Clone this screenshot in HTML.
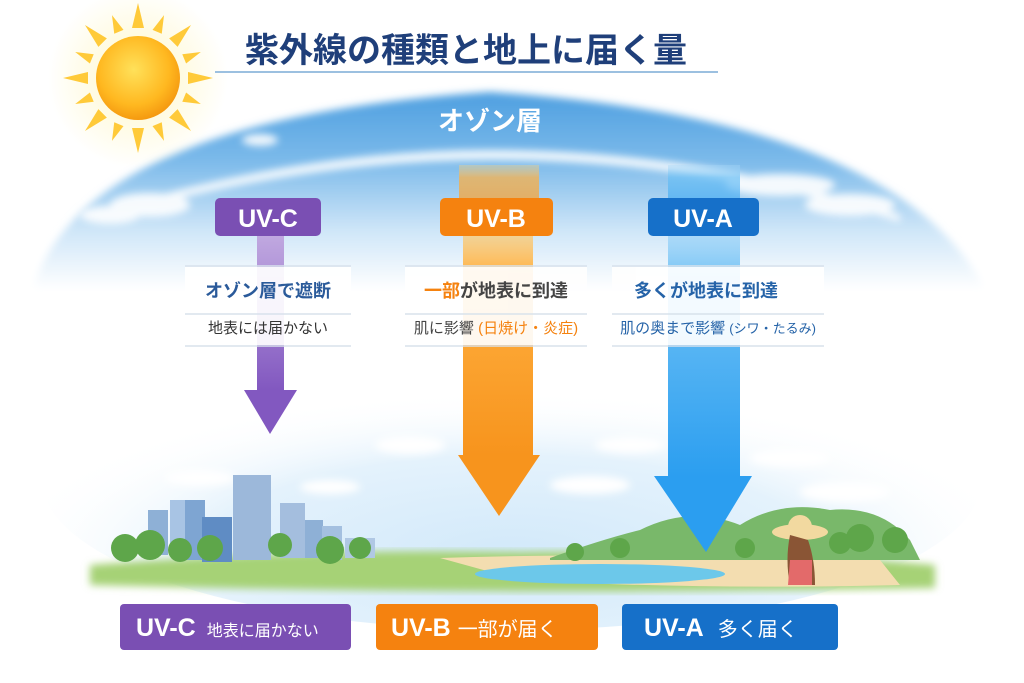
<!DOCTYPE html>
<html><head><meta charset="utf-8"><style>
html,body{margin:0;padding:0;background:#fff}
svg{display:block}
text{font-family:"Liberation Sans","Noto Sans CJK JP",sans-serif}
</style></head><body>
<svg width="1024" height="683" viewBox="0 0 1024 683" xmlns="http://www.w3.org/2000/svg">
<defs>
<linearGradient id="sky" x1="0" y1="92" x2="0" y2="290" gradientUnits="userSpaceOnUse">
<stop offset="0" stop-color="#4e9fe0"/><stop offset="0.35" stop-color="#7cbaea"/><stop offset="0.7" stop-color="#cfe6f8"/><stop offset="1" stop-color="#ffffff"/>
</linearGradient>
<radialGradient id="sun" cx="0.45" cy="0.4" r="0.6"><stop offset="0" stop-color="#ffe15a"/><stop offset="0.7" stop-color="#ffb820"/><stop offset="1" stop-color="#f59a10"/></radialGradient>
<radialGradient id="glow"><stop offset="0" stop-color="#fff6c0" stop-opacity="0.9"/><stop offset="1" stop-color="#fff6c0" stop-opacity="0"/></radialGradient>
<radialGradient id="low" cx="0.5" cy="0.75" r="0.55"><stop offset="0" stop-color="#d2e9fa"/><stop offset="0.6" stop-color="#e4f2fc"/><stop offset="1" stop-color="#fff" stop-opacity="0"/></radialGradient>
<linearGradient id="ob" x1="0" y1="0" x2="0" y2="1"><stop offset="0" stop-color="#ffd27a" stop-opacity="0.5"/><stop offset="0.25" stop-color="#ffb040"/><stop offset="1" stop-color="#f7941d"/></linearGradient>
<linearGradient id="bb" x1="0" y1="0" x2="0" y2="1"><stop offset="0" stop-color="#a8d8f8" stop-opacity="0.5"/><stop offset="0.25" stop-color="#6cc0f5"/><stop offset="1" stop-color="#2b9ef0"/></linearGradient>
<linearGradient id="pb" x1="0" y1="0" x2="0" y2="1"><stop offset="0" stop-color="#c0a8e0"/><stop offset="1" stop-color="#8258c0"/></linearGradient>
<filter id="blur"><feGaussianBlur stdDeviation="4"/></filter>
<filter id="blur2"><feGaussianBlur stdDeviation="12"/></filter>
</defs>
<rect width="1024" height="683" fill="#fff"/>
<!-- lower sky -->
<ellipse cx="512" cy="480" rx="470" ry="150" fill="url(#low)"/>
<!-- sky dome -->
<path d="M30 300 Q70 120 490 92 Q910 120 990 300 Z" fill="url(#sky)" filter="url(#blur)"/>
<!-- cloud band -->
<g fill="#fff" opacity="0.9" filter="url(#blur)">
<ellipse cx="150" cy="205" rx="40" ry="12"/><ellipse cx="110" cy="215" rx="30" ry="9"/>
<path d="M90 215 Q300 150 490 150 Q700 150 900 215 L900 222 Q700 160 490 160 Q300 160 90 222 Z"/>
<ellipse cx="780" cy="185" rx="55" ry="11"/><ellipse cx="850" cy="205" rx="45" ry="11"/>
<ellipse cx="260" cy="140" rx="18" ry="6"/>
</g>
<!-- sun -->
<circle cx="138" cy="78" r="90" fill="url(#glow)"/>
<g fill="#ffc830" opacity="0.95">
<g transform="translate(138 78)">
<polygon points="-6,-50 6,-50 0,-75"/><polygon points="-6,50 6,50 0,75"/><polygon points="-50,-6 -50,6 -75,0"/><polygon points="50,-6 50,6 75,0"/>
<g transform="rotate(22.5)"><polygon points="-5,-50 5,-50 0,-68"/><polygon points="-5,50 5,50 0,68"/><polygon points="-50,-5 -50,5 -68,0"/><polygon points="50,-5 50,5 68,0"/></g>
<g transform="rotate(45)"><polygon points="-6,-50 6,-50 0,-75"/><polygon points="-6,50 6,50 0,75"/><polygon points="-50,-6 -50,6 -75,0"/><polygon points="50,-6 50,6 75,0"/></g>
<g transform="rotate(67.5)"><polygon points="-5,-50 5,-50 0,-68"/><polygon points="-5,50 5,50 0,68"/><polygon points="-50,-5 -50,5 -68,0"/><polygon points="50,-5 50,5 68,0"/></g>
</g></g>
<circle cx="138" cy="78" r="42" fill="url(#sun)"/>
<!-- title -->
<text x="466" y="62" text-anchor="middle" font-size="34" font-weight="bold" fill="#1f3f7a">紫外線の種類と地上に届く量</text>
<line x1="215" y1="72" x2="718" y2="72" stroke="#9cc0e0" stroke-width="2"/>
<text x="490" y="130" text-anchor="middle" font-size="26" font-weight="bold" fill="#fff">オゾン層</text>
<!-- clouds low -->
<g fill="#fff" filter="url(#blur)">
<ellipse cx="410" cy="445" rx="35" ry="9"/><ellipse cx="630" cy="445" rx="35" ry="8"/><ellipse cx="790" cy="458" rx="40" ry="9"/>
<ellipse cx="200" cy="478" rx="35" ry="8"/><ellipse cx="330" cy="487" rx="30" ry="7"/><ellipse cx="590" cy="485" rx="40" ry="9"/><ellipse cx="845" cy="492" rx="45" ry="10"/>
</g>
<!-- ground scene -->
<g>
<path d="M90 565 Q300 548 520 552 Q750 548 935 565 L935 588 Q500 596 90 585 Z" fill="#a6d276" filter="url(#blur)"/>
<path d="M440 558 Q620 552 880 560 L900 585 Q700 590 520 580 Z" fill="#f3ddb0"/>
<ellipse cx="600" cy="574" rx="125" ry="10" fill="#6cc8ea"/>
<path d="M550 558 Q600 540 640 530 Q690 505 740 525 Q780 500 830 510 Q880 505 910 540 L920 560 L550 560 Z" fill="#79b86a"/>
<g fill="#8eb0d6">
<rect x="148" y="510" width="20" height="45"/><rect x="170" y="500" width="22" height="55" fill="#a8c4e4"/>
<rect x="185" y="500" width="20" height="60" fill="#7ea5d2"/><rect x="202" y="517" width="30" height="45" fill="#5f8cc4"/>
<rect x="233" y="475" width="38" height="85" fill="#9cb8da"/><rect x="280" y="503" width="25" height="55" fill="#a4bede"/>
<rect x="305" y="520" width="18" height="38"/><rect x="322" y="526" width="20" height="34" fill="#a4c0e0"/><rect x="345" y="538" width="30" height="20" fill="#b0c8e4"/>
</g>
<g fill="#5ea64a">
<circle cx="125" cy="548" r="14"/><circle cx="150" cy="545" r="15"/><circle cx="180" cy="550" r="12"/><circle cx="210" cy="548" r="13"/>
<circle cx="280" cy="545" r="12"/><circle cx="330" cy="550" r="14"/><circle cx="360" cy="548" r="11"/><circle cx="575" cy="552" r="9"/><circle cx="620" cy="548" r="10"/>
<circle cx="860" cy="538" r="14"/><circle cx="895" cy="540" r="13"/><circle cx="840" cy="543" r="11"/><circle cx="745" cy="548" r="10"/>
</g>
<ellipse cx="800" cy="532" rx="28" ry="8" fill="#f2d9a0"/><circle cx="800" cy="527" r="12" fill="#f2d9a0"/>
<path d="M790 535 Q785 560 790 585 L815 585 Q815 560 808 540 Z" fill="#8a5535"/>
<path d="M790 560 L812 560 L812 585 L788 585 Z" fill="#e36a6a"/>
</g>
<!-- UV-C beam -->
<rect x="257" y="236" width="27" height="154" fill="url(#pb)"/>
<polygon points="244,390 297,390 270,434" fill="#8258c0"/>
<!-- UV-B beam -->
<rect x="459" y="165" width="80" height="50" fill="url(#ob)" opacity="0.7"/>
<rect x="463" y="215" width="70" height="240" fill="url(#ob)"/>
<polygon points="458,455 540,455 499,516" fill="#f7941d"/>
<!-- UV-A beam -->
<rect x="668" y="165" width="72" height="50" fill="url(#bb)" opacity="0.7"/>
<rect x="668" y="215" width="72" height="262" fill="url(#bb)"/>
<polygon points="654,476 752,476 706,552" fill="#2b9ef0"/>
<!-- labels -->
<rect x="215" y="198" width="106" height="38" rx="5" fill="#7a4fb3"/>
<text x="268" y="227" text-anchor="middle" font-size="25" font-weight="bold" fill="#fff">UV-C</text>
<rect x="440" y="198" width="113" height="38" rx="5" fill="#f5820f"/>
<text x="496" y="227" text-anchor="middle" font-size="25" font-weight="bold" fill="#fff">UV-B</text>
<rect x="648" y="198" width="111" height="38" rx="5" fill="#1670c9"/>
<text x="703" y="227" text-anchor="middle" font-size="25" font-weight="bold" fill="#fff">UV-A</text>
<!-- panels -->
<g fill="#fff" opacity="0.92">
<rect x="185" y="267" width="166" height="78"/><rect x="405" y="267" width="182" height="78"/><rect x="612" y="267" width="212" height="78"/>
</g>
<g stroke="#d8e2ec" stroke-width="1.5">
<line x1="185" y1="266" x2="351" y2="266"/><line x1="185" y1="314" x2="351" y2="314"/><line x1="185" y1="346" x2="351" y2="346"/>
<line x1="405" y1="266" x2="587" y2="266"/><line x1="405" y1="314" x2="587" y2="314"/><line x1="405" y1="346" x2="587" y2="346"/>
<line x1="612" y1="266" x2="824" y2="266"/><line x1="612" y1="314" x2="824" y2="314"/><line x1="612" y1="346" x2="824" y2="346"/>
</g>
<text x="268" y="297" text-anchor="middle" font-size="18" font-weight="bold" fill="#2a5a9a">オゾン層で遮断</text>
<text x="268" y="333" text-anchor="middle" font-size="15" fill="#333">地表には届かない</text>
<text x="496" y="297" text-anchor="middle" font-size="18" font-weight="bold" fill="#444"><tspan fill="#f5820f">一部</tspan>が地表に到達</text>
<text x="496" y="333" text-anchor="middle" font-size="15" fill="#444">肌に影響 <tspan fill="#f5820f">(日焼け・炎症)</tspan></text>
<text x="706" y="297" text-anchor="middle" font-size="18" font-weight="bold" fill="#2563a8">多くが地表に到達</text>
<text x="718" y="333" text-anchor="middle" font-size="15" fill="#2563a8">肌の奥まで影響 <tspan font-size="13">(シワ・たるみ)</tspan></text>
<!-- bottom buttons -->
<rect x="120" y="604" width="231" height="46" rx="4" fill="#7a4fb3"/>
<text x="136" y="636" font-size="25" font-weight="bold" fill="#fff">UV-C <tspan font-size="16" font-weight="normal" dx="4">地表に届かない</tspan></text>
<rect x="376" y="604" width="222" height="46" rx="4" fill="#f5820f"/>
<text x="391" y="636" font-size="25" font-weight="bold" fill="#fff">UV-B <tspan font-size="20" font-weight="normal">一部が届く</tspan></text>
<rect x="622" y="604" width="216" height="46" rx="4" fill="#1670c9"/>
<text x="644" y="636" font-size="25" font-weight="bold" fill="#fff">UV-A <tspan font-size="20" font-weight="normal" dx="8">多く届く</tspan></text>
</svg>
</body></html>
